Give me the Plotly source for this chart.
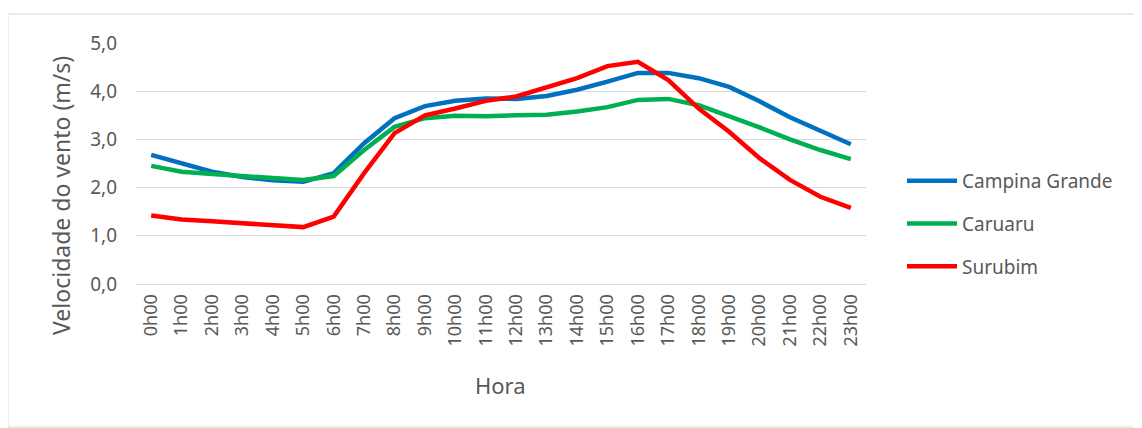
import plotly.graph_objects as go

# horas do dia
horas = [f"{h}h00" for h in range(24)]

campina_grande = [2.68, 2.50, 2.33, 2.22, 2.15, 2.12, 2.30, 2.92, 3.44, 3.69, 3.80, 3.85,
                  3.84, 3.90, 4.03, 4.20, 4.38, 4.38, 4.27, 4.09, 3.79, 3.46, 3.17, 2.90]
caruaru = [2.45, 2.33, 2.28, 2.24, 2.19, 2.16, 2.24, 2.78, 3.26, 3.44, 3.49, 3.48,
           3.50, 3.51, 3.58, 3.67, 3.82, 3.84, 3.71, 3.49, 3.25, 3.00, 2.78, 2.59]
surubim = [1.42, 1.34, 1.30, 1.26, 1.22, 1.18, 1.40, 2.30, 3.13, 3.50, 3.64, 3.80,
           3.89, 4.08, 4.27, 4.52, 4.61, 4.23, 3.64, 3.16, 2.61, 2.16, 1.81, 1.58]

series = {"Campina Grande": campina_grande, "Caruaru": caruaru, "Surubim": surubim}
color_dict = {"Campina Grande": "#0070C0", "Caruaru": "#00B050", "Surubim": "#FF0000"}

fig = go.Figure()
for name, vals in series.items():
    fig.add_trace(go.Scatter(x=horas, y=vals, name=name, mode="lines", legendgroup=name,
                             line=dict(color=color_dict[name], width=4.5)))

txt = "#595959"
# page has an 8px body margin, so the figure is drawn 8px smaller
W, H = 1134, 420
L, R, T, B = 128, 276, 35, 144
pw, ph = W - L - R, H - T - B

def px(x):  # page pixel -> paper x
    return (x - 8 - L) / pw

def py(y):  # page pixel -> paper y
    return (T + ph - (y - 8)) / ph

fig.update_layout(
    width=W, height=H,
    margin=dict(l=L, r=R, t=T, b=B),
    plot_bgcolor="white", paper_bgcolor="white",
    separators=",.",
    font=dict(family="Noto Sans", size=18, color=txt),
    legend=dict(x=px(902), y=py(224), yanchor="middle", xanchor="left",
                font=dict(size=19, color=txt), tracegroupgap=15,
                itemwidth=50),
    showlegend=True,
)
fig.update_yaxes(range=[0, 5], dtick=1, tickformat=".1f", showgrid=True,
                 gridcolor="#D9D9D9", gridwidth=1, zeroline=False, showline=False,
                 ticklabelstandoff=18, tickfont=dict(size=19))
fig.update_xaxes(range=[-0.5, 23.5], tickangle=-90, showgrid=False, showline=True,
                 linecolor="#D9D9D9", linewidth=1, ticks="", tickfont=dict(size=18),
                 ticklabelstandoff=2)

fig.add_annotation(text="Velocidade do vento (m/s)", textangle=-90, showarrow=False,
                   xref="paper", yref="paper", x=px(61), y=py(196),
                   xanchor="center", yanchor="middle", font=dict(size=23, color=txt))
fig.add_annotation(text="Hora", showarrow=False, xref="paper", yref="paper",
                   x=px(500), y=py(385), xanchor="center", yanchor="middle",
                   font=dict(size=22, color=txt))

# borda da área do gráfico
fig.add_shape(type="rect", xref="paper", yref="paper",
              x0=px(8), x1=px(1141), y0=py(427), y1=py(14),
              line=dict(color="#D9D9D9", width=1), layer="below")

fig.write_html("out.html")
